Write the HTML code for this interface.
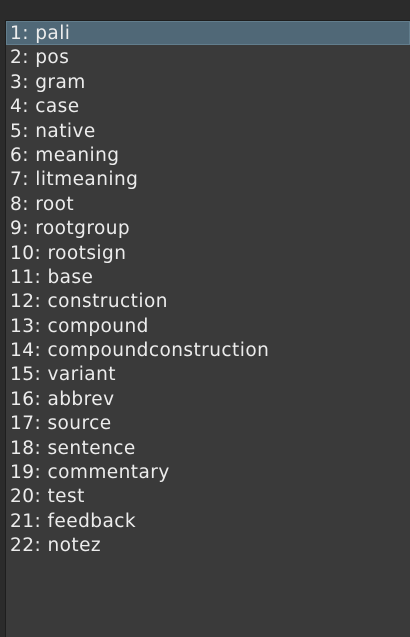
<!DOCTYPE html><html><head><style>
body{margin:0;width:410px;height:637px;background:#2b2b2b;overflow:hidden;font-family:"DejaVu Sans","Liberation Sans",sans-serif}
.box{position:absolute;left:5px;top:20px;width:405px;height:617px;background:#3a3a3a;border-left:1px solid #1e1e1e;border-top:1px solid #1e1e1e;box-sizing:border-box}
.r{height:24.4px;line-height:26px;font-size:18.5px;letter-spacing:0.45px;color:#ececec;padding-left:4px;white-space:nowrap}
.s{background:#506877;border:1px solid #627d8c;line-height:24px;height:24.4px;box-sizing:border-box;padding-left:3px}
</style></head><body><div class="box">
<div class="r s">1: pali</div><div class="r">2: pos</div><div class="r">3: gram</div><div class="r">4: case</div><div class="r">5: native</div><div class="r">6: meaning</div><div class="r">7: litmeaning</div><div class="r">8: root</div><div class="r">9: rootgroup</div><div class="r">10: rootsign</div><div class="r">11: base</div><div class="r">12: construction</div><div class="r">13: compound</div><div class="r">14: compoundconstruction</div><div class="r">15: variant</div><div class="r">16: abbrev</div><div class="r">17: source</div><div class="r">18: sentence</div><div class="r">19: commentary</div><div class="r">20: test</div><div class="r">21: feedback</div><div class="r">22: notez</div>
</div></body></html>
